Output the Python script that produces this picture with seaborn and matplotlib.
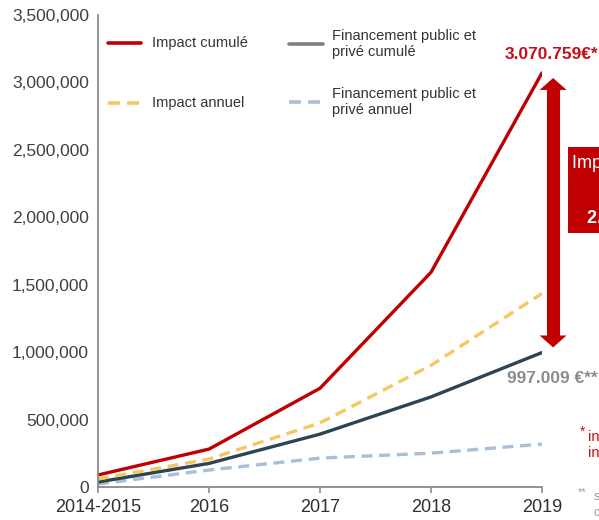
import matplotlib
matplotlib.use("Agg")
import matplotlib.pyplot as plt
import numpy as np
import pandas as pd
import seaborn as sns
from matplotlib.lines import Line2D
from matplotlib.patches import FancyArrowPatch, Rectangle
from matplotlib.ticker import FuncFormatter

# ---- data -------------------------------------------------------------
periods = ["2014-2015", "2016", "2017", "2018", "2019"]
impact_cumule = [89000, 281000, 732000, 1592000, 3070759]
impact_annuel = [59000, 207000, 475000, 902000, 1435000]
financement_cumule = [37000, 175000, 392000, 668000, 997009]
financement_annuel = [22000, 126000, 214000, 251000, 318000]

series_names = [
    "Impact cumulé",
    "Impact annuel",
    "Financement public et\nprivé cumulé",
    "Financement public et\nprivé annuel",
]
series_values = [impact_cumule, impact_annuel, financement_cumule, financement_annuel]

RED = "#C00000"
YELLOW = "#F7C65E"
DARK = "#2E4454"
LIGHTBLUE = "#A9BFD6"
GREY_LEG = "#808080"

palette = dict(zip(series_names, [RED, YELLOW, DARK, LIGHTBLUE]))
dash_map = dict(zip(series_names, ["", (3.3, 2.0), "", (3.3, 2.0)]))

df = pd.DataFrame({
    "période": periods * len(series_names),
    "valeur": [v for vals in series_values for v in vals],
    "série": [n for n in series_names for _ in periods],
})

# ---- figure -----------------------------------------------------------
sns.set_theme(style="white")
plt.rcParams["font.family"] = ["Liberation Sans", "DejaVu Sans"]

W, H = 599, 520
fig = plt.figure(figsize=(W / 100, H / 100), dpi=100)


def fx(px):
    return px / W


def fy(py):
    return 1 - py / H


ax = fig.add_axes([fx(98), fy(487), (542 - 98) / W, (487 - 15) / H])

draw_order = [series_names[3], series_names[2], series_names[1], series_names[0]]
sns.lineplot(
    data=df, x="période", y="valeur", hue="série", style="série",
    hue_order=draw_order, style_order=draw_order,
    palette=palette, dashes=dash_map, linewidth=2.4, sort=False,
    legend=False, ax=ax,
)

ax.set_xlim(0, len(periods) - 1)
ax.set_ylim(0, 3_500_000)
ax.set_yticks(np.arange(0, 3_500_001, 500_000))
ax.yaxis.set_major_formatter(FuncFormatter(lambda v, p: f"{v:,.0f}"))
ax.set_xlabel("")
ax.set_ylabel("")

for side in ("top", "right"):
    ax.spines[side].set_visible(False)
for side in ("left", "bottom"):
    ax.spines[side].set_color("#8a8a8a")
    ax.spines[side].set_linewidth(1.3)

ax.tick_params(axis="y", length=0, pad=6.5, labelsize=12.5, labelcolor="#404040")
ax.tick_params(axis="x", direction="out", length=4.3, width=1.2, color="#8a8a8a",
               pad=4, labelsize=13, labelcolor="#303030", bottom=True)

# ---- end-point labels --------------------------------------------------
last = len(periods) - 1
ax.annotate("3.070.759€*", xy=(last, impact_cumule[-1]), xytext=(-27, 13),
            textcoords="offset points", ha="left", va="center",
            fontsize=12.5, fontweight="bold", color="#C0101A",
            annotation_clip=False)
ax.annotate("997.009 €**", xy=(last, financement_cumule[-1]), xytext=(-25, -18.5),
            textcoords="offset points", ha="left", va="center",
            fontsize=12.5, fontweight="bold", color="#8c8c8c",
            annotation_clip=False)

# ---- double arrow between the two cumulative totals -------------------
arrow_x = last + 0.1
top = impact_cumule[-1] - 38_000
bottom = financement_cumule[-1] + 38_000
head = 80_000
ax.add_line(Line2D([arrow_x, arrow_x], [bottom + head, top - head], color=RED,
                   linewidth=9.4, solid_capstyle="butt", clip_on=False))
style = "simple,head_length=0.43,head_width=0.97,tail_width=0.3"
for start, end in ((top - 2 * head, top), (bottom + 2 * head, bottom)):
    ax.add_patch(FancyArrowPatch((arrow_x, start), (arrow_x, end), arrowstyle=style,
                                 mutation_scale=20, color=RED, lw=0,
                                 shrinkA=0, shrinkB=0, clip_on=False))

# ---- red callout box ----------------------------------------------------
fig.patches.append(Rectangle((fx(568), fy(233)), fx(100), (233 - 147) / H,
                             transform=fig.transFigure, facecolor=RED,
                             edgecolor="none", zorder=3))
fig.text(fx(572), fy(163), "Impact net", ha="left", va="center",
         fontsize=13, color="white", zorder=4)
fig.text(fx(587), fy(218), "2.073.750 €", ha="left", va="center",
         fontsize=13, fontweight="bold", color="white", zorder=4)

# ---- footnotes ----------------------------------------------------------
fig.text(fx(580), fy(432), "*", ha="left", va="center", fontsize=10, color="#C0101A")
fig.text(fx(588), fy(445), "incluant l'impact\nindirect", ha="left", va="center",
         fontsize=10.5, color="#C0101A", linespacing=1.25)
fig.text(fx(578), fy(492), "**", ha="left", va="center", fontsize=8, color="#9a9a9a")
fig.text(fx(594), fy(505), "sur la base des\ncomptes annuels", ha="left",
         va="center", fontsize=9, color="#9a9a9a", linespacing=1.35)

# ---- legend -------------------------------------------------------------
legend_items = [
    (series_names[0], RED, "-", 108, 141, 43, 152),
    (series_names[1], YELLOW, (0, (3.3, 2.0)), 108, 141, 103, 152),
    (series_names[2], GREY_LEG, "-", 289, 323, 44, 332),
    (series_names[3], LIGHTBLUE, (0, (3.3, 2.0)), 289, 323, 102, 332),
]
for label, color, ls, x0, x1, y, tx in legend_items:
    fig.add_artist(Line2D([fx(x0), fx(x1)], [fy(y), fy(y)], transform=fig.transFigure,
                          color=color, linestyle=ls, linewidth=2.6))
    fig.text(fx(tx), fy(y), label, ha="left", va="center", fontsize=10.5,
             color="#333333", linespacing=1.2)

fig.savefig("out.png", dpi=100)
